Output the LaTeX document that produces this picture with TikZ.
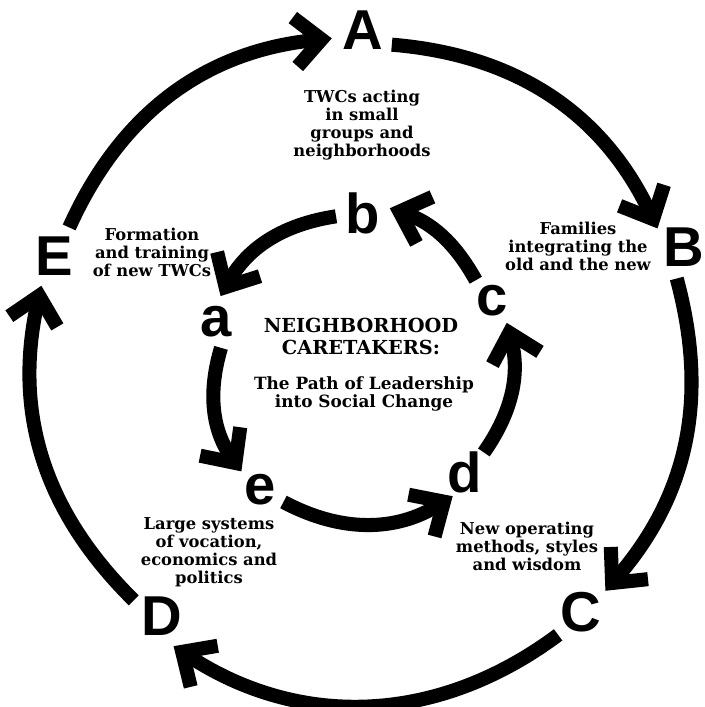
\documentclass[tikz,border=0pt]{standalone}
\usepackage{fontspec}
\setmainfont{DejaVu Serif}
\newfontfamily\letterfont{Liberation Sans}
\usetikzlibrary{arrows.meta}

\tikzset{
	bigarc/.style={line width=8pt, -{Straight Barb[length=15pt,width=28pt]}},
	bigletter/.style={circle, minimum size=1.28cm, inner sep=0pt, font=\letterfont\bfseries\fontsize{32}{32}\selectfont},
	smallletter/.style={circle, minimum size=1.04cm, inner sep=0pt, font=\letterfont\bfseries\fontsize{32}{32}\selectfont},
	blurb/.style={align=center, inner sep=0pt, font=\bfseries\fontsize{9.3}{10.2}\selectfont},
	headline/.style={align=center, inner sep=0pt, font=\bfseries\fontsize{11}{12.5}\selectfont},
}

\begin{document}
\begin{tikzpicture}[x=0.02cm, y=0.02cm]
			%%%%% START %%%%%
			\useasboundingbox (0, 0) rectangle (704, 707);
			
			% outer ring letters
			\node[bigletter] (A) at (363, 677) {A};
			\node[bigletter] (B) at (684, 460) {B};
			\node[bigletter] (C) at (581, 95) {C};
			\node[bigletter] (D) at (162, 91) {D};
			\node[bigletter] (E) at (54, 451) {E};
			
			% inner ring letters
			\node[smallletter] (b) at (363, 494) {b};
			\node[smallletter] (c) at (492, 406) {c};
			\node[smallletter] (d) at (465, 235) {d};
			\node[smallletter] (e) at (260, 217) {e};
			\node[smallletter] (a) at (216, 385) {a};
			
			% texts
			\node[blurb] (twc) at (362, 582) {TWCs acting\\in small\\groups and\\neighborhoods};
			\node[blurb] (fam) at (578, 461) {Families\\integrating the\\old and the new};
			\node[blurb] (form) at (152, 455) {Formation\\and training\\of new TWCs};
			\node[headline] (title) at (361, 371) {NEIGHBORHOOD\\CARETAKERS:};
			\node[blurb, font=\bfseries\fontsize{9.6}{10.2}\selectfont] (path) at (364, 313) {The Path of Leadership\\into Social Change};
			\node[blurb] (large) at (209, 155) {Large systems\\of vocation,\\economics and\\politics};
			\node[blurb] (newop) at (527, 161) {New operating\\methods, styles\\and wisdom};
			
			% outer ring, clockwise
			\draw[bigarc] (E.62) to[bend left=30] (A.195);
			\draw[bigarc] (A.-27) to[bend left=30] (B.145);
			\draw[bigarc] (B.257) to[bend left=28] (C.41);
			\draw[bigarc] (C.225) to[bend left=35] (D.291);
			\draw[bigarc] (D.151) to[bend left=29] (E.247);
			
			% inner ring, counterclockwise
			\draw[bigarc] (c.128) to[bend right=21] (b.10);
			\draw[bigarc] (b.187) to[bend right=26] (a.80);
			\draw[bigarc] (a.281) to[bend right=26] (e.135);
			\draw[bigarc] (e.333) to[bend right=30] (d.243);
			\draw[bigarc] (d.46) to[bend right=25] (c.304);
			%%%%% END %%%%%
\end{tikzpicture}
\end{document}
